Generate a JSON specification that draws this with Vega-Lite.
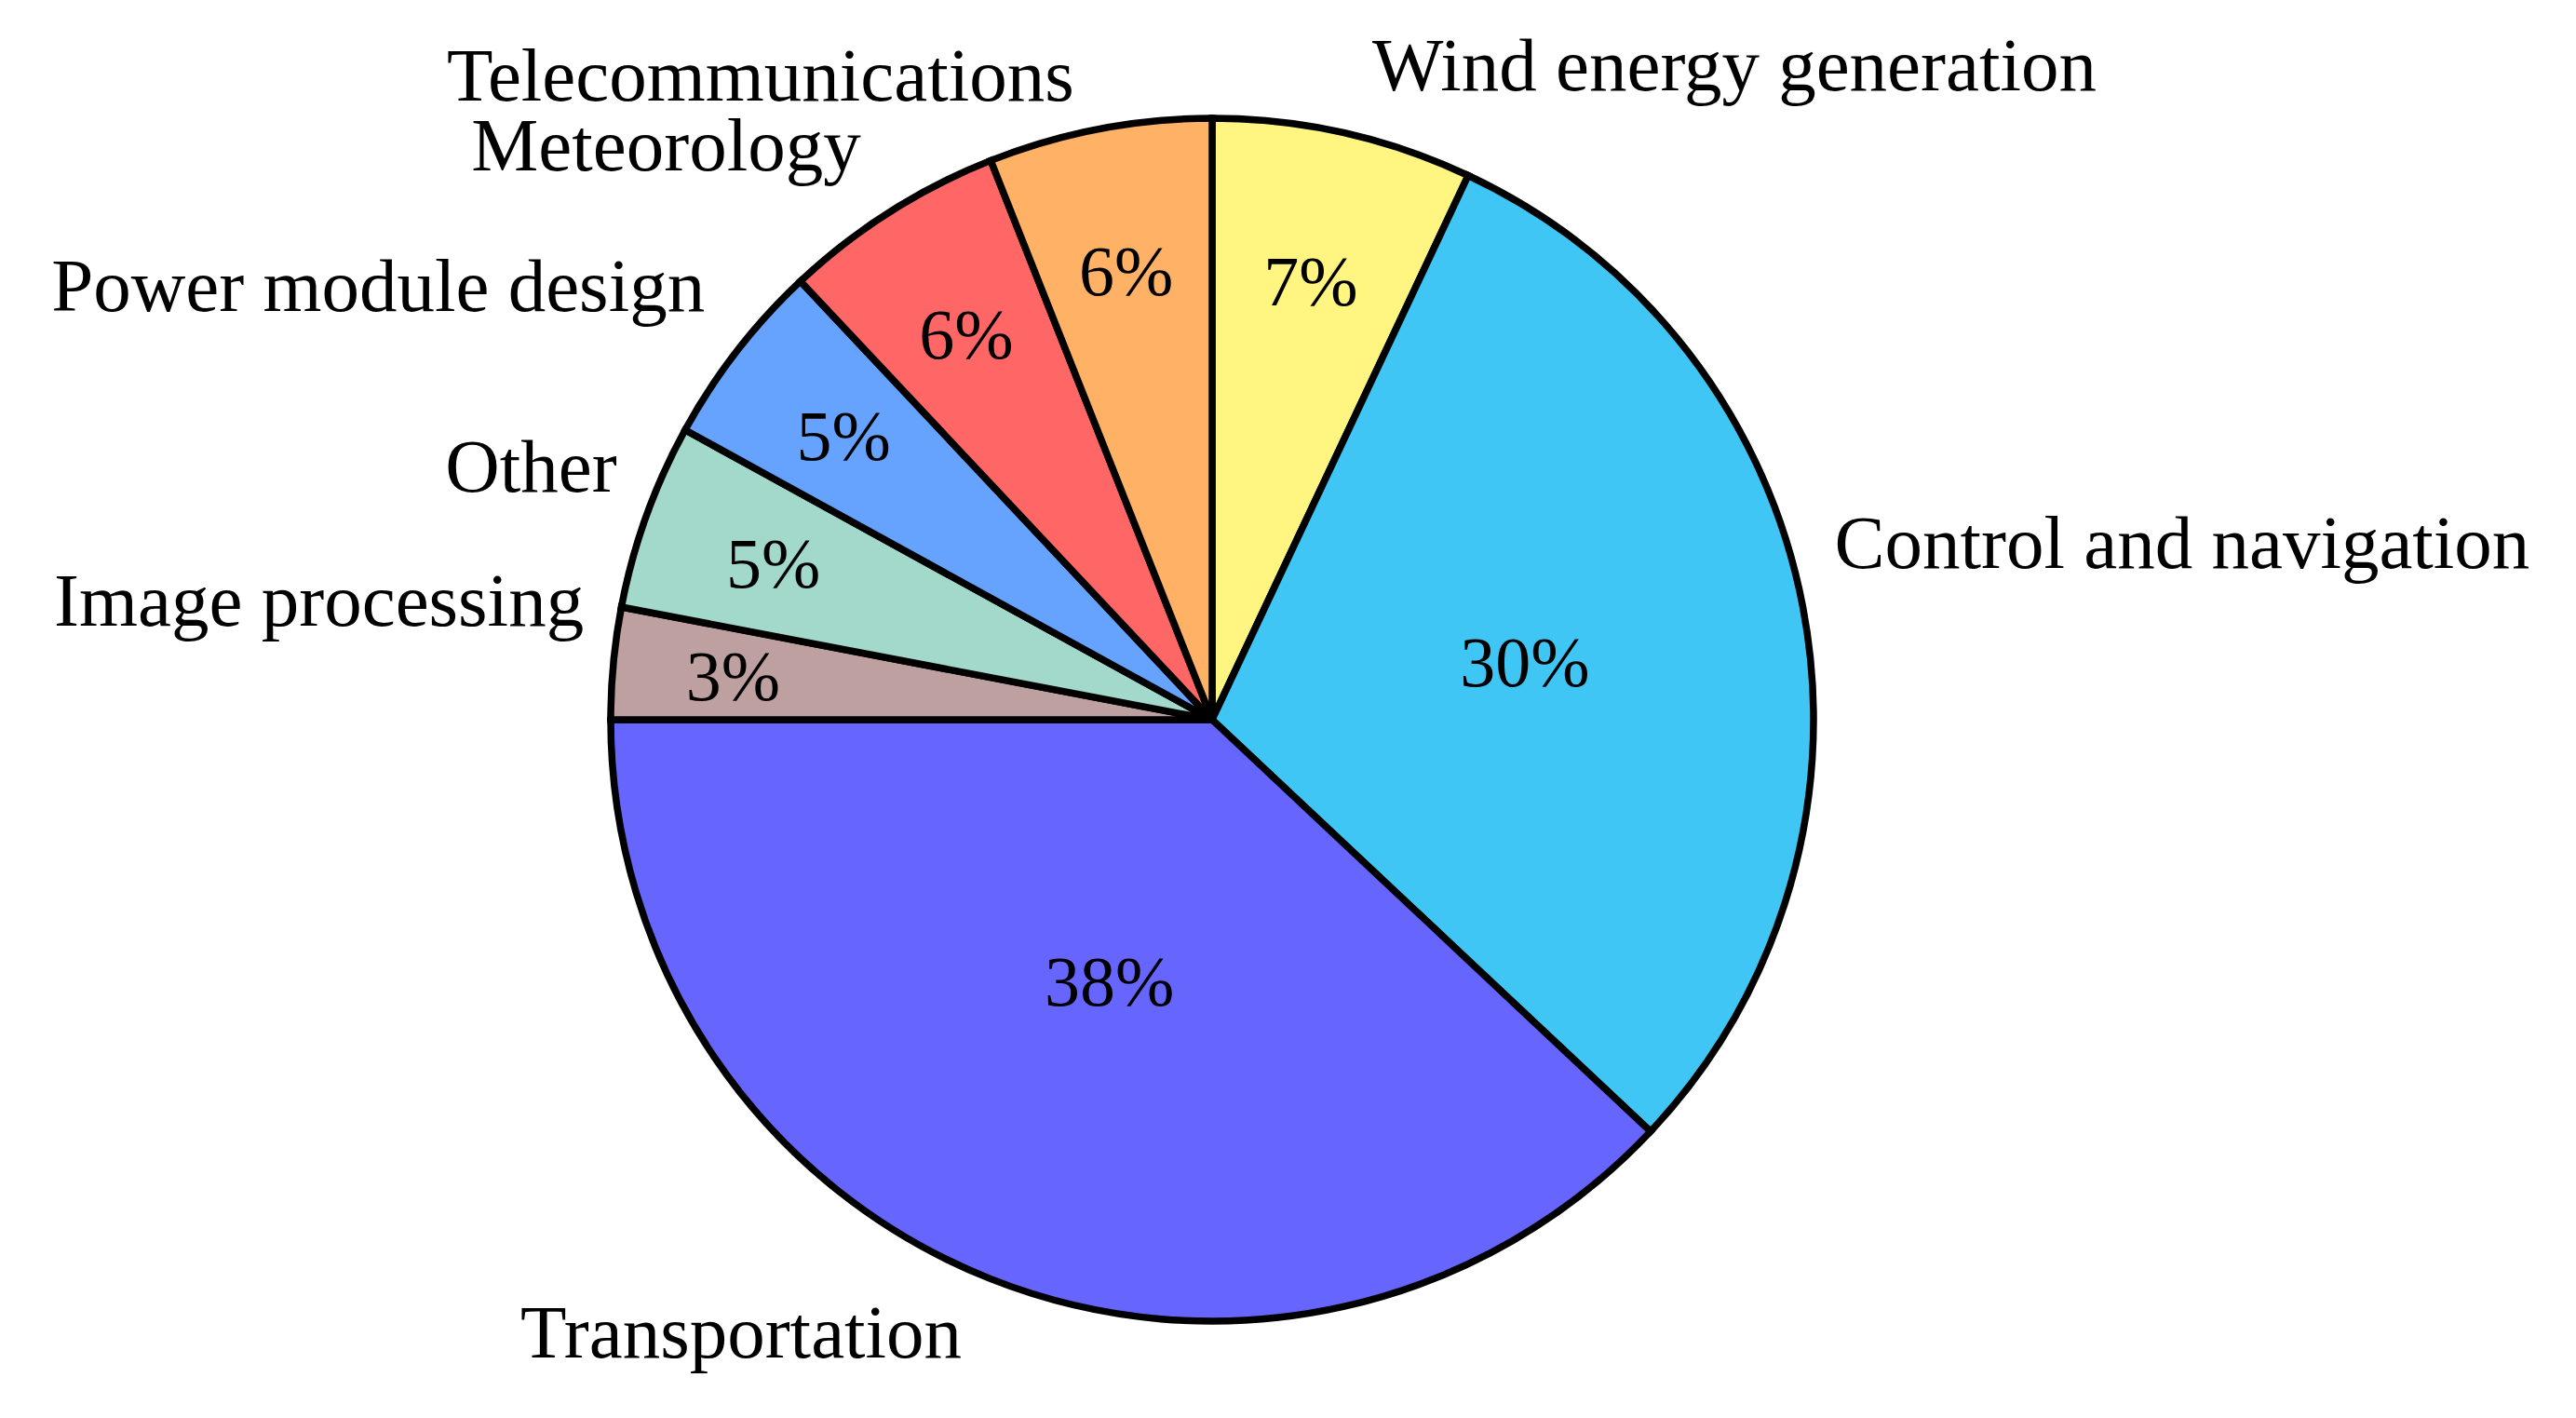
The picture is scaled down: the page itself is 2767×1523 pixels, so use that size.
{
  "$schema": "https://vega.github.io/schema/vega-lite/v6.json",
  "description": "Application areas pie chart",
  "autosize": "none",
  "width": 2604,
  "height": 1500,
  "padding": {"left": 0, "top": 23, "right": 163, "bottom": 0},
  "background": "white",
  "view": {"stroke": null},
  "data": {
    "values": [
      {"rank": 1, "name": "Wind energy generation", "share": 7, "pct": "7%"},
      {"rank": 2, "name": "Control and navigation", "share": 30, "pct": "30%"},
      {"rank": 3, "name": "Transportation", "share": 38, "pct": "38%"},
      {"rank": 4, "name": "Image processing", "share": 3, "pct": "3%"},
      {"rank": 5, "name": "Other", "share": 5, "pct": "5%"},
      {"rank": 6, "name": "Power module design", "share": 5, "pct": "5%"},
      {"rank": 7, "name": "Meteorology", "share": 6, "pct": "6%"},
      {"rank": 8, "name": "Telecommunications", "share": 6, "pct": "6%"}
    ]
  },
  "encoding": {
    "theta": {"field": "share", "type": "quantitative", "stack": true},
    "order": {"field": "rank", "type": "ordinal"}
  },
  "layer": [
    {
      "mark": {"type": "arc", "outerRadius": 646, "stroke": "black", "strokeWidth": 7.5},
      "encoding": {
        "color": {
          "field": "name",
          "type": "nominal",
          "legend": null,
          "scale": {
            "domain": ["Wind energy generation", "Control and navigation", "Transportation", "Image processing", "Other", "Power module design", "Meteorology", "Telecommunications"],
            "range": ["#FFF580", "#40C6F5", "#6666FF", "#BFA0A0", "#A3D9CB", "#66A3FF", "#FF6666", "#FFB266"]
          }
        }
      }
    },
    {
      "mark": {"type": "text", "font": "Liberation Serif", "fontSize": 76, "color": "black", "baseline": "middle", "dy": 5},
      "encoding": {
        "text": {"field": "pct"},
        "radius": {
          "field": "share",
          "type": "quantitative",
          "scale": {"domain": [3, 7, 30, 38], "range": [517, 485, 342, 300], "zero": false, "nice": false}
        }
      }
    },
    {
      "mark": {
        "type": "text",
        "font": "Liberation Serif",
        "fontSize": 81,
        "color": "black",
        "baseline": "middle",
        "radius": 706,
        "align": {"expr": "datum.rank <= 2 ? 'left' : 'right'"},
        "dx": {"expr": "{'Wind energy generation': 18, 'Control and navigation': -25, 'Transportation': -9, 'Image processing': 28, 'Other': 25, 'Power module design': 13, 'Meteorology': 1, 'Telecommunications': -16}[datum.name]"},
        "dy": {"expr": "{'Wind energy generation': -11, 'Control and navigation': -55, 'Transportation': 5, 'Image processing': -59, 'Other': -30, 'Power module design': -30, 'Meteorology': -18, 'Telecommunications': 4}[datum.name]"}
      },
      "encoding": {
        "text": {"field": "name"}
      }
    }
  ]
}
